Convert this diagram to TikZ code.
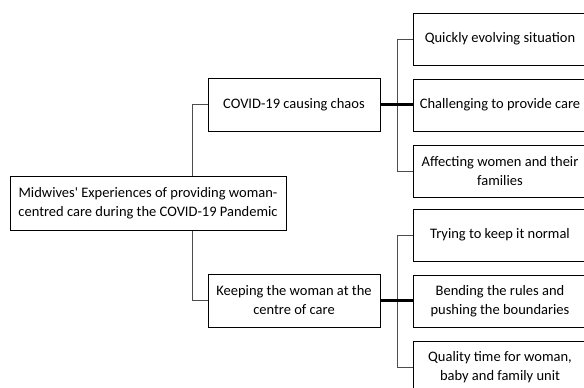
\documentclass[tikz,border=0pt]{standalone}
\usepackage{fontspec}
\setmainfont{Carlito}
\usetikzlibrary{positioning}
\definecolor{mapLine}{HTML}{4D4D4D}

\begin{document}
\begin{tikzpicture}[x=1pt,y=-1pt,font=\fontsize{14.5}{19}\selectfont,node distance=13pt,
        theme/.style={draw,line width=1pt,minimum width=172pt,minimum height=53pt,align=center,inner sep=2pt},
        leaf/.style={draw,line width=1pt,minimum width=174pt,minimum height=52pt,align=center,inner sep=2pt},
        twig/.style={draw=mapLine,line width=1pt},
        trunk/.style={draw=black,line width=2.2pt}]
        \useasboundingbox (0,0) rectangle (584,388);
        \node[theme,minimum width=276pt,minimum height=54pt] (root) at (148,203) {Midwives\textquotesingle{} Experiences of providing woman-\\centred care during the COVID-19 Pandemic};
        \node[theme] (covid) at (294,104.5) {COVID-19 causing chaos};
        \node[theme] (keep) at (294,300.5) {Keeping the woman at the\\centre of care};
        % covid themes
        \node[leaf] (c1) at (500,39) {Quickly evolving situation};
        \node[leaf,below=of c1] (c2) {Challenging to provide care};
        \node[leaf,below=of c2] (c3) {Affecting women and their\\families};
        % keeping themes
        \node[leaf] (k1) at (500,235) {Trying to keep it normal};
        \node[leaf,below=of k1] (k2) {Bending the rules and\\pushing the boundaries};
        \node[leaf,below=of k2] (k3) {Quality time for woman,\\baby and family unit};
        \coordinate (cSpine) at ([xshift=17pt]covid.east);
        \coordinate (kSpine) at ([xshift=17pt]keep.east);
        \draw[twig] ([xshift=44pt]root.north) |- (covid.west);
        \draw[twig] ([xshift=44pt]root.south) |- (keep.west);
        \draw[twig] (c1.west) -| (cSpine) |- (c3.west);
        \draw[twig] (k1.west) -| (kSpine) |- (k3.west);
        \draw[trunk] (covid.east) -- (covid.east -| c2.west);
        \draw[trunk] (keep.east) -- (keep.east -| k2.west);
      \end{tikzpicture}
\end{document}
